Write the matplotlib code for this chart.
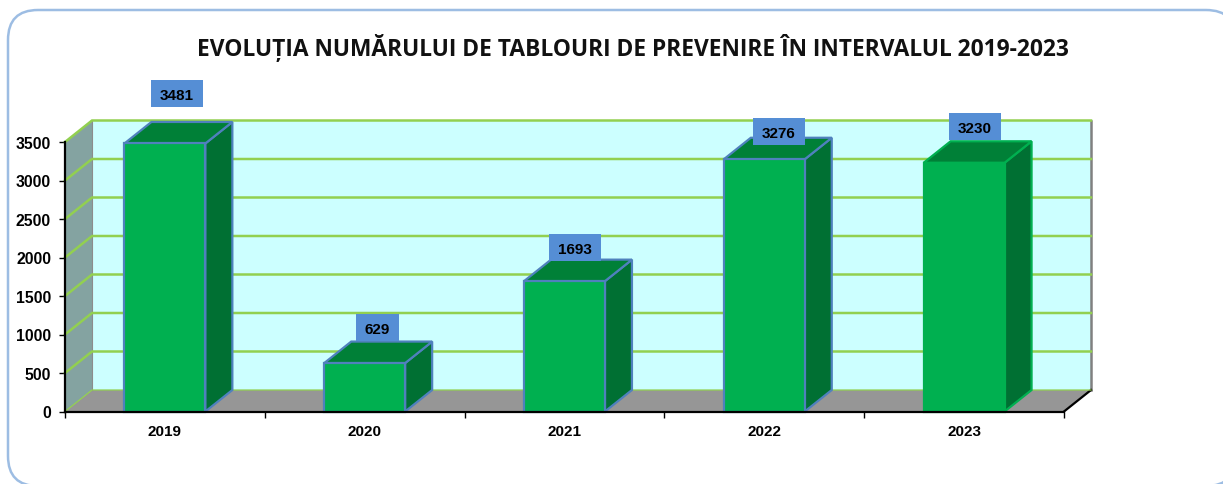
import matplotlib
matplotlib.use("Agg")
import matplotlib.pyplot as plt
from matplotlib.patches import Polygon, Rectangle, FancyBboxPatch

# data
years = ["2019", "2020", "2021", "2022", "2023"]
values = [3481, 629, 1693, 3276, 3230]
y_ticks = [0, 500, 1000, 1500, 2000, 2500, 3000, 3500]
title = "EVOLUȚIA NUMĂRULUI DE TABLOURI DE PREVENIRE ÎN INTERVALUL 2019-2023"

W, H = 1223, 485
# plot frame in pixels (front plane of the fake 3d box)
left, right, top, bottom = 65, 1064, 143, 412.5
ux = 5 / (right - left)          # data per pixel
uy = 3500 / (bottom - top)
dep_x = 27 * ux
dep_y = 21.5 * uy
bar_w = 0.405

# label box shift from the bar top, hand placed in the original (px)
label_lift = [13, -1, -3, -9, -1]
label_shift = [-1.5, -1, -3, 1, -3]

c_wall = "#CCFFFF"; c_side = "#84A3A1"; c_floor = "#969696"; c_grid = "#92D050"
c_front = "#00B050"; c_top = "#008037"; c_right = "#007033"; c_edge = "#4F81BD"
c_label = "#558ED5"

fig = plt.figure(figsize=(W / 100, H / 100), dpi=100, facecolor="white")

# rounded outer frame, drawn in pixel coordinates (runs off the right and bottom edges)
bg = fig.add_axes([0, 0, 1, 1], zorder=0)
bg.set_xlim(0, W); bg.set_ylim(H, 0); bg.axis("off")
bg.add_patch(FancyBboxPatch((8, 11), 1228, 476, boxstyle="round,pad=0,rounding_size=30",
                            facecolor="white", edgecolor="#9DBDE3", linewidth=1.8))

ax = fig.add_axes([left / W, 1 - bottom / H, (right - left) / W, (bottom - top) / H], zorder=1)
ax.set_xlim(0, 5); ax.set_ylim(0, 3500)
ax.patch.set_alpha(0)

# walls and floor
ax.add_patch(Polygon([(dep_x, dep_y), (5 + dep_x, dep_y), (5 + dep_x, 3500 + dep_y), (dep_x, 3500 + dep_y)],
                     closed=True, fc=c_wall, ec="none", clip_on=False, zorder=1))
ax.add_patch(Polygon([(0, 0), (dep_x, dep_y), (dep_x, 3500 + dep_y), (0, 3500)],
                     closed=True, fc=c_side, ec="none", clip_on=False, zorder=1))
ax.add_patch(Polygon([(0, 0), (5, 0), (5 + dep_x, dep_y), (dep_x, dep_y)],
                     closed=True, fc=c_floor, ec="none", clip_on=False, zorder=1))
ax.plot([5 + dep_x] * 2, [dep_y, 3500 + dep_y], color="#808080", lw=1.8, clip_on=False, zorder=2)
ax.plot([dep_x] * 2, [dep_y, 3500 + dep_y], color="#8C8C8C", lw=0.8, clip_on=False, zorder=2)
ax.plot([5, 5 + dep_x], [0, dep_y], color="black", lw=1.6, clip_on=False, zorder=2)

# gridlines run along the side wall then the back wall
for v in y_ticks:
    lw = 0.9 if v == 0 else 1.8
    ax.plot([0, dep_x, 5 + dep_x], [v, v + dep_y, v + dep_y], color=c_grid, lw=lw,
            clip_on=False, zorder=2, solid_joinstyle="miter")

# bars
for i, v in enumerate(values):
    x0 = i + 0.5 - bar_w / 2
    x1 = x0 + bar_w
    edge = c_front if i == 4 else c_edge
    ax.add_patch(Polygon([(x1, 0), (x1 + dep_x, dep_y), (x1 + dep_x, v + dep_y), (x1, v)],
                         closed=True, fc=c_right, ec=edge, lw=1.6, clip_on=False, zorder=3))
    ax.add_patch(Polygon([(x0, v), (x1, v), (x1 + dep_x, v + dep_y), (x0 + dep_x, v + dep_y)],
                         closed=True, fc=c_top, ec=edge, lw=1.6, clip_on=False, zorder=3))
    ax.add_patch(Rectangle((x0, 0), bar_w, v, fc=c_front, ec=edge, lw=1.6, clip_on=False, zorder=4))

    # value label box
    s = str(v)
    bw = (52 if len(s) == 4 else 43) * ux
    bh = 27 * uy
    cx = i + 0.5 + dep_x / 2 + label_shift[i] * ux
    by = v + dep_y + (2 + label_lift[i]) * uy
    ax.add_patch(Rectangle((cx - bw / 2, by), bw, bh, fc=c_label, ec="none", clip_on=False, zorder=5))
    ax.text(cx, by + bh / 2, s, ha="center", va="center_baseline", fontsize=11, fontweight="bold",
            family="Liberation Sans", color="black", zorder=6, clip_on=False)

# axes
for s in ["top", "right"]:
    ax.spines[s].set_visible(False)
for s in ["left", "bottom"]:
    ax.spines[s].set_color("black")
    ax.spines[s].set_linewidth(1.6)
    ax.spines[s].set_zorder(5)
ax.set_yticks(y_ticks)
ax.set_xticks(range(6))
ax.set_xticklabels([])
ax.set_xticks([i + 0.5 for i in range(5)], minor=True)
ax.set_xticklabels(years, minor=True, fontsize=11, fontweight="bold", family="Liberation Sans")
ax.tick_params(axis="x", which="minor", length=0, pad=9)
ax.tick_params(axis="x", which="major", length=4, width=1, color="black")
ax.tick_params(axis="y", length=4, width=1, pad=6)
for t in ax.get_yticklabels():
    t.set_fontsize(11.3); t.set_fontweight("bold"); t.set_family("Liberation Sans")

fig.text(633 / W, 1 - 48 / H, title, ha="center", va="center", fontsize=16.4, fontweight="bold",
         family="Open Sans", color="#111111", zorder=10)

fig.savefig("out.png", dpi=100)
plt.close(fig)
